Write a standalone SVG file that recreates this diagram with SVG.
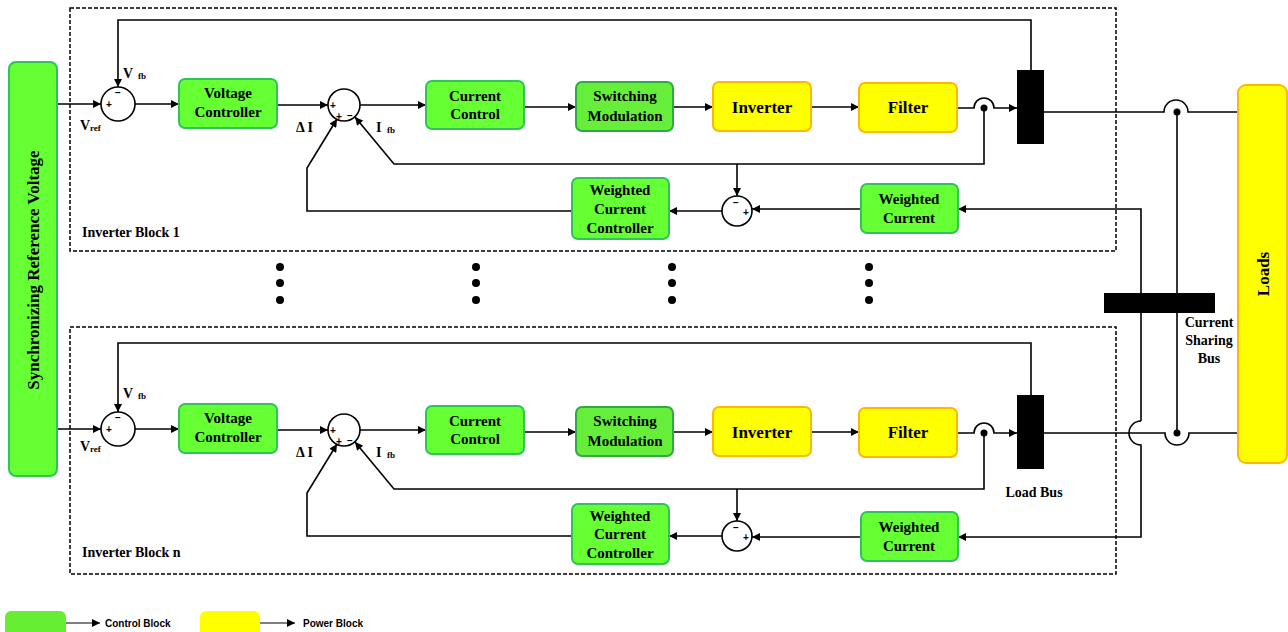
<svg xmlns="http://www.w3.org/2000/svg" width="1288" height="632" viewBox="0 0 1288 632">
<defs>
<marker id="arr" viewBox="0 0 10 10" refX="10" refY="5" markerWidth="9" markerHeight="8" markerUnits="userSpaceOnUse" orient="auto">
<path d="M0,0 L10,5 L0,10 z" fill="#000"/>
</marker>
<style>
.ctl{fill:#66FF33;stroke:#2EC45A;stroke-width:2}
.ctl2{fill:#66EE3A;stroke:#2EAA44;stroke-width:2}
.pwr{fill:#FFFF00;stroke:#FFB800;stroke-width:2}
.t{font-family:"Liberation Serif",serif;font-weight:bold;font-size:15px;fill:#000;text-anchor:middle}
.tb{font-family:"Liberation Serif",serif;font-weight:bold;font-size:17px;fill:#000;text-anchor:middle}
.lbl{font-family:"Liberation Serif",serif;font-weight:bold;font-size:14px;fill:#000}
.sub{font-family:"Liberation Serif",serif;font-weight:bold;font-size:9px;fill:#000}
.sg{font-family:"Liberation Sans",sans-serif;font-weight:bold;font-size:10px;fill:#000;text-anchor:middle}
.sum{fill:#fff;stroke:#000;stroke-width:1.6}
.w{fill:none;stroke:#000;stroke-width:1.6}
.a{fill:none;stroke:#000;stroke-width:1.6;marker-end:url(#arr)}
.dash{fill:none;stroke:#000;stroke-width:1.5;stroke-dasharray:4 2}
.leg{font-family:"Liberation Sans",sans-serif;font-weight:bold;font-size:10px;fill:#000}
</style>
</defs>
<rect width="1288" height="632" fill="#fff"/>

<!-- frames -->
<rect class="dash" x="70" y="8" width="1046" height="243"/>
<rect class="dash" x="70" y="327" width="1046" height="247"/>
<text class="lbl" x="82" y="237">Inverter Block 1</text>
<text class="lbl" x="82" y="557">Inverter Block n</text>

<!-- connectors -->
<g id="connectors">
<!-- block 1 -->
<path class="a" d="M57,104 L101,104"/>
<path class="a" d="M1031,70 L1031,20 L118,20 L118,87"/>
<path class="a" d="M135,104 L179,104"/>
<path class="a" d="M277,105 L328,105"/>
<path class="a" d="M360,105 L426,105"/>
<path class="a" d="M524,107 L576,107"/>
<path class="a" d="M673,107 L713,107"/>
<path class="a" d="M811,107 L859,107"/>
<path class="a" d="M957,108 L974,108 A10,10 0 0 1 994,108 L1017,108"/>
<path class="a" d="M984,108 L984,164 L394,164 L355,117"/>
<path class="a" d="M737,164 L737,196"/>
<path class="a" d="M861,209 L752,209"/>
<path class="a" d="M722,211 L669,211"/>
<path class="a" d="M572,211 L307,211 L307,168 L337,119"/>
<path class="w" d="M1044,112 L1164,112 A12,12 0 0 1 1188,112 L1238,112"/>
<path class="a" d="M1141,421 L1141,209 L958,209"/>
<!-- block n -->
<path class="a" d="M57,429 L101,429"/>
<path class="a" d="M1031,395 L1031,343 L118,343 L118,412"/>
<path class="a" d="M135,429 L179,429"/>
<path class="a" d="M277,430 L328,430"/>
<path class="a" d="M360,430 L426,430"/>
<path class="a" d="M524,432 L576,432"/>
<path class="a" d="M673,432 L713,432"/>
<path class="a" d="M811,432 L859,432"/>
<path class="a" d="M957,433 L974,433 A10,10 0 0 1 994,433 L1017,433"/>
<path class="a" d="M984,433 L984,489 L394,489 L355,442"/>
<path class="a" d="M737,489 L737,521"/>
<path class="a" d="M861,537 L752,537"/>
<path class="a" d="M722,536 L669,536"/>
<path class="a" d="M572,536 L307,536 L307,493 L337,444"/>
<path class="w" d="M1044,433 L1165,433 A12,12 0 0 0 1189,433 L1238,433"/>
<path class="a" d="M1141,421 A12,12 0 0 0 1141,445 L1141,537 L958,537"/>
<!-- current sharing vertical -->
<path class="w" d="M1177,112 L1177,433"/>
<circle cx="984" cy="108" r="3.5"/>
<circle cx="1177" cy="112" r="3.5"/>
<circle cx="984" cy="433" r="3.5"/>
<circle cx="1177" cy="433" r="3.5"/>
</g>

<!-- sync ref -->
<g id="sync-ref">
<rect class="ctl" x="9" y="62" width="48" height="414" rx="7"/>
<text class="tb" transform="translate(39,270) rotate(-90)">Synchronizing Reference Voltage</text>
</g>

<!-- loads -->
<g id="loads">
<rect class="pwr" x="1238" y="85" width="49" height="378" rx="8"/>
<text class="tb" transform="translate(1269,274) rotate(-90)">Loads</text>
</g>

<!-- block 1 nodes -->
<g id="sum1-1"><circle class="sum" cx="118" cy="104" r="17"/><text class="sg" x="118" y="96">−</text><text class="sg" x="109" y="108">+</text></g>
<text class="lbl" x="123" y="78" font-size="15">V</text><text class="sub" x="138" y="79">fb</text>
<text class="lbl" x="80" y="130">V</text><text class="sub" x="90" y="131" font-size="10">ref</text>
<g id="vc-1"><rect class="ctl" x="179" y="79" width="98" height="49" rx="6"/><text class="t" x="228" y="98">Voltage</text><text class="t" x="228" y="117">Controller</text></g>
<g id="sum2-1"><circle class="sum" cx="344" cy="105" r="16"/><text class="sg" x="333" y="109">+</text><text class="sg" x="339" y="120">+</text><text class="sg" x="350" y="119">−</text></g>
<text class="lbl" x="296" y="132">Δ I</text>
<text class="lbl" x="376" y="132">I</text><text class="sub" x="387" y="133">fb</text>
<g id="cc-1"><rect class="ctl" x="426" y="81" width="98" height="48" rx="6"/><text class="t" x="475" y="101">Current</text><text class="t" x="475" y="119">Control</text></g>
<g id="sm-1"><rect class="ctl2" x="576" y="82" width="97" height="49" rx="6"/><text class="t" x="625" y="101">Switching</text><text class="t" x="625" y="121">Modulation</text></g>
<g id="inv-1"><rect class="pwr" x="713" y="82" width="98" height="49" rx="6"/><text class="tb" x="762" y="113">Inverter</text></g>
<g id="filt-1"><rect class="pwr" x="859" y="83" width="98" height="49" rx="6"/><text class="tb" x="908" y="113">Filter</text></g>
<g id="bar-1"><rect x="1017" y="70" width="27" height="74" fill="#000"/></g>
<g id="sum3-1"><circle class="sum" cx="737" cy="211" r="15"/><text class="sg" x="736" y="206">−</text><text class="sg" x="746" y="216">+</text></g>
<g id="wcc-1"><rect class="ctl" x="572" y="178" width="97" height="61" rx="6"/><text class="t" x="620" y="195">Weighted</text><text class="t" x="620" y="214">Current</text><text class="t" x="620" y="233">Controller</text></g>
<g id="wc-1"><rect class="ctl" x="861" y="184" width="97" height="49" rx="6"/><text class="t" x="909" y="204">Weighted</text><text class="t" x="909" y="223">Current</text></g>

<!-- block n nodes -->
<g id="sum1-n"><circle class="sum" cx="118" cy="429" r="17"/><text class="sg" x="118" y="421">−</text><text class="sg" x="109" y="433">+</text></g>
<text class="lbl" x="123" y="398" font-size="15">V</text><text class="sub" x="138" y="399">fb</text>
<text class="lbl" x="80" y="451">V</text><text class="sub" x="90" y="452" font-size="10">ref</text>
<g id="vc-n"><rect class="ctl" x="179" y="404" width="98" height="49" rx="6"/><text class="t" x="228" y="423">Voltage</text><text class="t" x="228" y="442">Controller</text></g>
<g id="sum2-n"><circle class="sum" cx="344" cy="430" r="16"/><text class="sg" x="333" y="434">+</text><text class="sg" x="339" y="445">+</text><text class="sg" x="350" y="444">−</text></g>
<text class="lbl" x="296" y="457">Δ I</text>
<text class="lbl" x="376" y="457">I</text><text class="sub" x="387" y="458">fb</text>
<g id="cc-n"><rect class="ctl" x="426" y="406" width="98" height="48" rx="6"/><text class="t" x="475" y="426">Current</text><text class="t" x="475" y="444">Control</text></g>
<g id="sm-n"><rect class="ctl2" x="576" y="407" width="97" height="49" rx="6"/><text class="t" x="625" y="426">Switching</text><text class="t" x="625" y="446">Modulation</text></g>
<g id="inv-n"><rect class="pwr" x="713" y="407" width="98" height="49" rx="6"/><text class="tb" x="762" y="438">Inverter</text></g>
<g id="filt-n"><rect class="pwr" x="859" y="408" width="98" height="49" rx="6"/><text class="tb" x="908" y="438">Filter</text></g>
<g id="bar-n"><rect x="1017" y="395" width="27" height="74" fill="#000"/></g>
<text class="lbl" x="1034" y="497" text-anchor="middle">Load Bus</text>
<g id="sum3-n"><circle class="sum" cx="737" cy="536" r="15"/><text class="sg" x="736" y="531">−</text><text class="sg" x="746" y="541">+</text></g>
<g id="wcc-n"><rect class="ctl" x="572" y="504" width="97" height="60" rx="6"/><text class="t" x="620" y="521">Weighted</text><text class="t" x="620" y="539">Current</text><text class="t" x="620" y="558">Controller</text></g>
<g id="wc-n"><rect class="ctl" x="861" y="512" width="97" height="49" rx="6"/><text class="t" x="909" y="532">Weighted</text><text class="t" x="909" y="551">Current</text></g>

<!-- current sharing bus -->
<g id="csb"><rect x="1104" y="293" width="111" height="20" fill="#000"/>
<text class="lbl" x="1209" y="327" text-anchor="middle" font-size="15">Current</text>
<text class="lbl" x="1209" y="345" text-anchor="middle" font-size="15">Sharing</text>
<text class="lbl" x="1209" y="363" text-anchor="middle" font-size="15">Bus</text></g>

<!-- ellipsis dots -->
<g id="dots" fill="#000">
<circle cx="280" cy="267" r="4"/><circle cx="280" cy="283" r="4"/><circle cx="280" cy="300" r="4"/>
<circle cx="476" cy="267" r="4"/><circle cx="476" cy="283" r="4"/><circle cx="476" cy="300" r="4"/>
<circle cx="672" cy="267" r="4"/><circle cx="672" cy="283" r="4"/><circle cx="672" cy="300" r="4"/>
<circle cx="869" cy="267" r="4"/><circle cx="869" cy="283" r="4"/><circle cx="869" cy="300" r="4"/>
</g>

<!-- legend -->
<g id="legend">
<rect x="5" y="611" width="61" height="30" rx="6" fill="#66EE33"/>
<path d="M66,623 L100,623" stroke="#000" stroke-width="1" marker-end="url(#arr)"/>
<text class="leg" x="105" y="627">Control Block</text>
<rect x="200" y="611" width="60" height="30" rx="6" fill="#FFFF00"/>
<path d="M260,623 L295,623" stroke="#000" stroke-width="1" marker-end="url(#arr)"/>
<text class="leg" x="303" y="627">Power Block</text>
</g>
</svg>
